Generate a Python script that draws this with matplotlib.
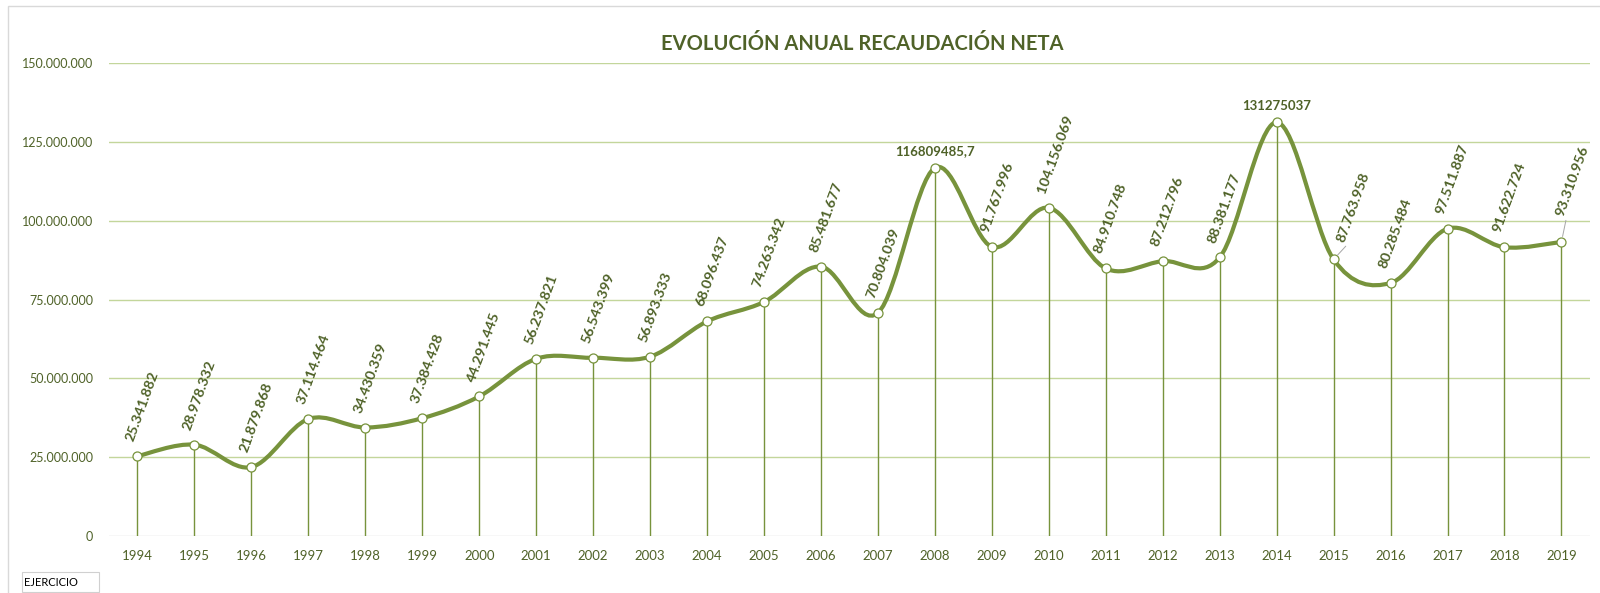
import matplotlib
matplotlib.use("Agg")
import matplotlib.pyplot as plt
from matplotlib.path import Path
from matplotlib.patches import PathPatch, Rectangle
from matplotlib.ticker import FuncFormatter, MultipleLocator

plt.rcParams["font.family"] = ["Lato", "DejaVu Sans"]

# ----------------------------
# Data
# ----------------------------
years = ["1994", "1995", "1996", "1997", "1998", "1999", "2000", "2001", "2002",
         "2003", "2004", "2005", "2006", "2007", "2008", "2009", "2010", "2011",
         "2012", "2013", "2014", "2015", "2016", "2017", "2018", "2019"]
recaudacion = [25341882, 28978332, 21879868, 37114464, 34430359, 37384428,
               44291445, 56237821, 56543399, 56893333, 68096437, 74263342,
               85481677, 70804039, 116809485.7, 91767996, 104156069, 84910748,
               87212796, 88381177, 131275037, 87763958, 80285484, 97511887,
               91622724, 93310956]
# years whose label Excel shows unformatted and horizontal
raw_labels = {"2008": "116809485,7", "2014": "131275037"}
# labels moved by hand in the original, with leader lines
moved_labels = {"2015": (11, 2), "2019": (4, 8)}

TITLE = "EVOLUCIÓN ANUAL RECAUDACIÓN NETA"

DARK = "#4f6228"
LINE = "#77933c"
GRID = "#c3d69b"


def _fmt_thousands(v, _pos=None):
    if v == 0:
        return "0"
    return f"{int(round(v)):,}".replace(",", ".")


def _smooth_path(xs, ys):
    # Excel-like smoothed line (Catmull-Rom as cubic Bezier)
    n = len(xs)
    verts = [(xs[0], ys[0])]
    codes = [Path.MOVETO]
    for i in range(n - 1):
        a = i - 1 if i > 0 else i
        d = i + 2 if i + 2 < n else i + 1
        c1 = (xs[i] + (xs[i + 1] - xs[a]) / 6, ys[i] + (ys[i + 1] - ys[a]) / 6)
        c2 = (xs[i + 1] - (xs[d] - xs[i]) / 6, ys[i + 1] - (ys[d] - ys[i]) / 6)
        verts += [c1, c2, (xs[i + 1], ys[i + 1])]
        codes += [Path.CURVE4] * 3
    return Path(verts, codes)


fig = plt.figure(figsize=(16, 5.93), dpi=100)
ax = fig.add_axes([0.0681, 0.0961, 0.9256, 0.7972])

x = list(range(len(years)))

# gridlines
for v in range(25_000_000, 150_000_001, 25_000_000):
    ax.axhline(v, color=GRID, lw=1.0, zorder=0)
ax.axhline(0, color="#d9d9d9", lw=1.0, zorder=0)

# drop lines
ax.vlines(x, 0, recaudacion, color=LINE, lw=1.0, zorder=1)

# smoothed line
ax.add_patch(PathPatch(_smooth_path(x, recaudacion), fill=False,
                       edgecolor=LINE, lw=3.0, capstyle="round", zorder=2))
ax.plot(x, recaudacion, ls="none", marker="o", ms=6.5, mfc="white",
        mec=LINE, mew=0.9, zorder=3)

# data labels
for xi, yr, v in zip(x, years, recaudacion):
    if yr in raw_labels:
        ax.annotate(raw_labels[yr], (xi, v), xytext=(0, 12),
                    textcoords="offset points", ha="center", va="center",
                    fontsize=9.5, fontweight="bold", color=DARK, zorder=4)
        continue
    dx, dy = -5.5, 11
    arrow = None
    if yr in moved_labels:
        mx, my = moved_labels[yr]
        dx, dy = dx + mx, dy + my
        arrow = dict(arrowstyle="-", color="#a6a6a6", lw=0.7,
                     shrinkA=0, shrinkB=4, relpos=(0.35, 0.0))
    ax.annotate(_fmt_thousands(v), (xi, v), xytext=(dx, dy),
                textcoords="offset points", rotation=70,
                rotation_mode="anchor", ha="left", va="center",
                fontsize=10.4, fontweight="bold", color=DARK,
                arrowprops=arrow, zorder=4)

ax.set_xlim(-0.5, len(years) - 0.5)
ax.set_ylim(0, 150_000_000)
ax.set_xticks(x)
ax.set_xticklabels(years)
ax.yaxis.set_major_locator(MultipleLocator(25_000_000))
ax.yaxis.set_major_formatter(FuncFormatter(_fmt_thousands))
ax.tick_params(axis="both", length=0, labelsize=9.5, labelcolor=DARK)
ax.tick_params(axis="y", labelsize=9, pad=11.5)
ax.tick_params(axis="x", pad=10)
for s in ax.spines.values():
    s.set_visible(False)

fig.text(0.539, 0.926, TITLE, ha="center", va="center", fontsize=14.5,
         fontweight="bold", color=DARK)

# chart area border
fig.add_artist(Rectangle((8 / 1600, -0.01), 1.1, 1 - 6 / 593 + 0.01,
                         transform=fig.transFigure, fill=False,
                         edgecolor="#d9d9d9", lw=1.0))

# "EJERCICIO" field button
fig.add_artist(Rectangle((22 / 1600, 1 - 592 / 593), 77 / 1600, 20 / 593,
                         transform=fig.transFigure, facecolor="white",
                         edgecolor="#d0d0d0", lw=0.8))
fig.text(24 / 1600, 1 - 582 / 593, "EJERCICIO", ha="left", va="center",
         fontsize=8, color="black")

fig.savefig("out.png", dpi=100)
